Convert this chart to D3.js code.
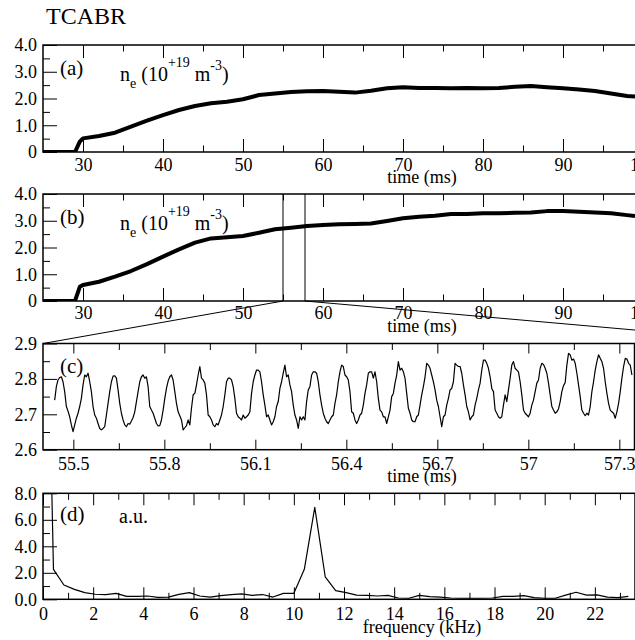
<!DOCTYPE html>
<html>
<head>
<meta charset="utf-8">
<script src="https://d3js.org/d3.v7.min.js"></script>
<style>
    html, body {
        margin: 0;
        padding: 0;
        background: #fff;
        overflow: hidden;
    }
    text {
        font-family: "Liberation Serif", "Times New Roman", serif;
        fill: #000;
    }
    .frame {
        fill: none;
        stroke: #000;
        stroke-width: 1.5px;
    }
    .axis line {
        stroke: #000;
        stroke-width: 1px;
    }
    .trace {
        fill: none;
        stroke: #000;
    }
</style>
</head>
<body>
<svg id="chart" width="635" height="640"></svg>
<script>
// ---- data ----

// panels (a) and (b): line-averaged density, 10^19 m^-3
var timesAB = [25, 29, 29.6, 30, 32, 34, 36, 38, 40, 42, 44, 46, 48, 50, 52, 54, 56, 58,
    60, 62, 64, 66, 68, 70, 72, 74, 76, 78, 80, 82, 84, 86, 88, 90, 92, 94, 96, 98, 99];
var densityA = [0, 0, 0.39, 0.51, 0.6, 0.72, 0.95, 1.17, 1.38, 1.57, 1.72, 1.82, 1.88, 1.97, 2.13, 2.19, 2.24, 2.27,
    2.28, 2.25, 2.22, 2.29, 2.38, 2.42, 2.39, 2.39, 2.38, 2.39, 2.38, 2.39, 2.44, 2.47, 2.42, 2.38, 2.34, 2.28, 2.19, 2.09, 2.07];
var densityB = [0, 0, 0.53, 0.6, 0.72, 0.91, 1.12, 1.38, 1.66, 1.93, 2.18, 2.34, 2.38, 2.43, 2.55, 2.68, 2.74, 2.80,
    2.84, 2.87, 2.88, 2.90, 2.99, 3.09, 3.15, 3.19, 3.25, 3.25, 3.28, 3.28, 3.30, 3.31, 3.36, 3.36, 3.34, 3.31, 3.28, 3.21, 3.18];

// window marked in (b) and blown up in (c), ms
var markedWindow = [55.0, 57.75];
var zoomLineEnds = [55.4, 57.856];

// panel (c): sampled signal
var sampleStart = 55.4385;   // ms
var sampleStep = 0.0055;     // ms
var oscillation = [
    2.740, 2.778, 2.797, 2.804, 2.806, 2.792, 2.764, 2.722, 2.709, 2.693, 2.670, 2.651, 2.670, 2.689, 2.703, 2.722,
    2.745, 2.783, 2.811, 2.806, 2.816, 2.792, 2.764, 2.722, 2.698, 2.689, 2.674, 2.660, 2.656, 2.660, 2.665, 2.698,
    2.731, 2.764, 2.792, 2.808, 2.809, 2.802, 2.769, 2.731, 2.703, 2.684, 2.670, 2.665, 2.674, 2.672, 2.681, 2.691,
    2.707, 2.736, 2.764, 2.792, 2.806, 2.811, 2.802, 2.806, 2.778, 2.722, 2.712, 2.703, 2.689, 2.674, 2.667, 2.668,
    2.684, 2.712, 2.745, 2.773, 2.794, 2.806, 2.811, 2.797, 2.764, 2.731, 2.707, 2.696, 2.684, 2.656, 2.662, 2.668,
    2.684,
    2.670, 2.717, 2.755, 2.759, 2.783, 2.811, 2.835, 2.802, 2.797, 2.788, 2.755, 2.698, 2.693, 2.684, 2.670, 2.665,
    2.674, 2.670, 2.684, 2.698, 2.722, 2.755, 2.792, 2.802, 2.802, 2.797, 2.778, 2.745, 2.703, 2.693, 2.689, 2.684,
    2.698, 2.689, 2.693, 2.698, 2.707, 2.759, 2.792, 2.811, 2.825, 2.825, 2.820, 2.792, 2.755, 2.726, 2.693, 2.698,
    2.684, 2.670, 2.679, 2.693, 2.722, 2.736, 2.773, 2.792, 2.816, 2.839, 2.806, 2.811, 2.783, 2.764, 2.726, 2.698,
    2.684, 2.660, 2.693, 2.684, 2.693, 2.684, 2.736, 2.769, 2.778, 2.811, 2.820, 2.820, 2.816, 2.792, 2.755, 2.726,
    2.703, 2.689, 2.679, 2.674, 2.684, 2.693, 2.698, 2.731,
    2.755, 2.792, 2.820, 2.839, 2.835, 2.811, 2.806, 2.797, 2.764, 2.707, 2.703, 2.684, 2.674, 2.684, 2.698, 2.703,
    2.726, 2.759, 2.783, 2.816, 2.820, 2.820, 2.802, 2.820, 2.792, 2.745, 2.712, 2.707, 2.693, 2.693, 2.674, 2.693,
    2.712, 2.750, 2.759, 2.788, 2.811, 2.849, 2.825, 2.830, 2.820, 2.802, 2.759, 2.717, 2.703, 2.684, 2.679, 2.679,
    2.693, 2.698, 2.726, 2.755, 2.778, 2.806, 2.844, 2.839, 2.830, 2.811, 2.792, 2.769, 2.740, 2.722, 2.693, 2.665,
    2.693, 2.698, 2.726, 2.745, 2.769, 2.773, 2.792, 2.844, 2.839, 2.835, 2.835, 2.816, 2.783, 2.755, 2.722, 2.707,
    2.684, 2.693, 2.698, 2.726, 2.745, 2.769, 2.788, 2.825,
    2.853, 2.853, 2.844, 2.830, 2.806, 2.773, 2.764, 2.712, 2.703, 2.693, 2.689, 2.693, 2.726, 2.755, 2.736, 2.769,
    2.802, 2.839, 2.849, 2.830, 2.825, 2.820, 2.792, 2.755, 2.712, 2.703, 2.698, 2.693, 2.703, 2.726, 2.740, 2.764,
    2.788, 2.797, 2.830, 2.844, 2.841, 2.830, 2.816, 2.788, 2.755, 2.722, 2.712, 2.703, 2.707, 2.715, 2.736, 2.764,
    2.781, 2.790, 2.839, 2.872, 2.868, 2.853, 2.856, 2.844, 2.816, 2.783, 2.750, 2.712, 2.703, 2.696, 2.703, 2.698,
    2.722, 2.764, 2.792, 2.825, 2.849, 2.868, 2.858, 2.849, 2.830, 2.792, 2.759, 2.731, 2.712, 2.707, 2.703, 2.689,
    2.707, 2.731, 2.764, 2.802, 2.835, 2.858, 2.856, 2.844, 2.839, 2.811
];

// panel (d): spectrum, a.u. (first bin is off scale)
var freqStep = 0.4167;   // kHz
var spectrum = [40, 2.26, 1.08, 0.75, 0.5, 0.38, 0.36, 0.45, 0.22, 0.22, 0.25, 0.15, 0.17, 0.37, 0.5, 0.25,
    0.17, 0.28, 0.36, 0.41, 0.3, 0.36, 0.17, 0.45, 0.45, 2.26, 6.94, 1.7, 0.65, 0.5, 0.32, 0.3,
    0.25, 0.3, 0.1, 0.08, 0.3, 0.2, 0.17, 0.1, 0.08, 0.08, 0.08, 0.1, 0.22, 0.22, 0.28, 0.12,
    0.08, 0.08, 0.32, 0.53, 0.32, 0.34, 0.17, 0.12, 0.22];

// ticks
var timeMajor = [30, 40, 50, 60, 70, 80, 90, 100];
var timeMinor = [35, 45, 55, 65, 75, 85, 95];
var timeLabels = ["30", "40", "50", "60", "70", "80", "90", "100"];
var densMajor = [0, 1, 2, 3, 4];
var densMinor = [0.5, 1.5, 2.5, 3.5];
var densLabels = ["0", "1.0", "2.0", "3.0", "4.0"];
var zoomMajor = [55.5, 55.8, 56.1, 56.4, 56.7, 57.0, 57.3];
var zoomMinor = [55.65, 55.95, 56.25, 56.55, 56.85, 57.15];
var zoomLabels = ["55.5", "55.8", "56.1", "56.4", "56.7", "57", "57.3"];
var oscMajor = [2.6, 2.7, 2.8, 2.9];
var oscMinor = [2.65, 2.75, 2.85];
var oscLabels = ["2.6", "2.7", "2.8", "2.9"];
var freqMajor = [0, 2, 4, 6, 8, 10, 12, 14, 16, 18, 20, 22];
var freqMinor = [1, 3, 5, 7, 9, 11, 13, 15, 17, 19, 21, 23];
var freqLabels = ["0", "2", "4", "6", "8", "10", "12", "14", "16", "18", "20", "22"];
var specMajor = [0, 2, 4, 6, 8];
var specMinor = [1, 3, 5, 7];
var specLabels = ["0.0", "2.0", "4.0", "6.0", "8.0"];

// ---- layout ----
var svg = d3.select("#chart");
var left = 43;
var titleX = 422;
var tickFont = 18;

var xTime = d3.scaleLinear().domain([25, 100]).range([left, 643]);
var xZoom = d3.scaleLinear().domain([55.4, 57.35]).range([left, 634.5]);
var xFreq = d3.scaleLinear().domain([0, 23.6]).range([left, 635]);

var yA = d3.scaleLinear().domain([0, 4]).range([152, 45]);
var yB = d3.scaleLinear().domain([0, 4]).range([301, 194]);
var yC = d3.scaleLinear().domain([2.6, 2.9]).range([449.7, 343.5]);
var yD = d3.scaleLinear().domain([0, 8]).range([599.3, 493.3]);

var defs = svg.append("defs");

function addAxis(g, axis, values, len, labels, pad, transform) {
    axis.tickValues(values).tickSize(-len).tickPadding(pad)
        .tickFormat(labels ? function(d, i) { return labels[i]; } : function() { return ""; });
    var a = g.append("g").attr("class", "axis").attr("transform", transform).call(axis);
    a.select(".domain").remove();
    a.attr("font-family", null).attr("font-size", tickFont);
    return a;
}

function drawPanel(p) {
    var g = svg.append("g");
    var x0 = p.x.range()[0], x1 = p.x.range()[1];
    var yTop = p.y.range()[1], yBot = p.y.range()[0];

    defs.append("clipPath").attr("id", "clip-" + p.id)
        .append("rect")
        .attr("x", x0).attr("y", yTop)
        .attr("width", x1 - x0).attr("height", yBot - yTop);

    addAxis(g, d3.axisBottom(p.x), p.xMajor, p.xLen, p.xLabels, p.xPad, "translate(0," + yBot + ")");
    addAxis(g, d3.axisBottom(p.x), p.xMinor, 6.5, null, 0, "translate(0," + yBot + ")");
    addAxis(g, d3.axisTop(p.x), p.xMajor, p.xLen, null, 0, "translate(0," + yTop + ")");
    addAxis(g, d3.axisTop(p.x), p.xMinor, 6.5, null, 0, "translate(0," + yTop + ")");
    addAxis(g, d3.axisLeft(p.y), p.yMajor, 14, p.yLabels, 6, "translate(" + x0 + ",0)");
    addAxis(g, d3.axisLeft(p.y), p.yMinor, 7, null, 6, "translate(" + x0 + ",0)");

    g.append("rect").attr("class", "frame")
        .attr("x", x0).attr("y", yTop)
        .attr("width", x1 - x0).attr("height", yBot - yTop);

    g.append("text")
        .attr("x", titleX).attr("y", yBot + p.titleDy)
        .attr("text-anchor", "middle")
        .attr("font-size", tickFont)
        .text(p.title);

    g.append("text")
        .attr("x", 60).attr("y", yTop + p.labelDy)
        .attr("font-size", 21)
        .text("(" + p.id + ")");

    return g;
}

function densityLabel(g, x, y) {
    var t = g.append("text").attr("x", x).attr("y", y).attr("font-size", 20);
    t.append("tspan").text("n");
    t.append("tspan").attr("font-size", 14).attr("dy", 7).text("e");
    t.append("tspan").attr("dy", -7).text(" (10");
    t.append("tspan").attr("font-size", 14).attr("dy", -14).text("+19");
    t.append("tspan").attr("dy", 14).text(" m");
    t.append("tspan").attr("font-size", 14).attr("dy", -11).text("-3");
    t.append("tspan").attr("dy", 11).text(")");
}

// title
svg.append("text").attr("x", 46).attr("y", 24).attr("font-size", 24).text("TCABR");

// (a)
var gA = drawPanel({id: "a", x: xTime, y: yA, xMajor: timeMajor, xMinor: timeMinor, xLabels: timeLabels,
    xLen: 13, xPad: 6, yMajor: densMajor, yMinor: densMinor, yLabels: densLabels,
    title: "time (ms)", titleDy: 31, labelDy: 30});
densityLabel(gA, 120, 81);

var lineA = d3.line().x(function(d) { return xTime(d[0]); }).y(function(d) { return yA(d[1]); });
gA.append("path").attr("class", "trace")
    .attr("clip-path", "url(#clip-a)")
    .attr("stroke-width", 4).attr("stroke-linejoin", "round")
    .attr("d", lineA(d3.zip(timesAB, densityA)));

// (b)
var gB = drawPanel({id: "b", x: xTime, y: yB, xMajor: timeMajor, xMinor: timeMinor, xLabels: timeLabels,
    xLen: 13, xPad: 5, yMajor: densMajor, yMinor: densMinor, yLabels: densLabels,
    title: "time (ms)", titleDy: 31, labelDy: 30});
densityLabel(gB, 120, 230);

var lineB = d3.line().x(function(d) { return xTime(d[0]); }).y(function(d) { return yB(d[1]); });
gB.append("path").attr("class", "trace")
    .attr("clip-path", "url(#clip-b)")
    .attr("stroke-width", 4).attr("stroke-linejoin", "round")
    .attr("d", lineB(d3.zip(timesAB, densityB)));

gB.selectAll(".marker").data(markedWindow).enter().append("line")
    .attr("x1", function(d) { return xTime(d); }).attr("x2", function(d) { return xTime(d); })
    .attr("y1", yB.range()[1]).attr("y2", yB.range()[0])
    .attr("stroke", "#000").attr("stroke-width", 1);

// zoom lines from (b) to (c)
svg.selectAll(".zoomline").data(d3.zip(markedWindow, zoomLineEnds)).enter().append("line")
    .attr("x1", function(d) { return xTime(d[0]); }).attr("y1", yB.range()[0])
    .attr("x2", function(d) { return xZoom(d[1]); }).attr("y2", yC.range()[1])
    .attr("stroke", "#000").attr("stroke-width", 1);

// (c)
var gC = drawPanel({id: "c", x: xZoom, y: yC, xMajor: zoomMajor, xMinor: zoomMinor, xLabels: zoomLabels,
    xLen: 10, xPad: 7.5, yMajor: oscMajor, yMinor: oscMinor, yLabels: oscLabels,
    title: "time (ms)", titleDy: 32, labelDy: 29});

var lineC = d3.line()
    .x(function(d, i) { return xZoom(sampleStart + i * sampleStep); })
    .y(function(d) { return yC(d); });
gC.append("path").attr("class", "trace")
    .attr("clip-path", "url(#clip-c)")
    .attr("stroke-width", 1.2).attr("stroke-linejoin", "round")
    .attr("d", lineC(oscillation));

// (d)
var gD = drawPanel({id: "d", x: xFreq, y: yD, xMajor: freqMajor, xMinor: freqMinor, xLabels: freqLabels,
    xLen: 12, xPad: 8, yMajor: specMajor, yMinor: specMinor, yLabels: specLabels,
    title: "frequency (kHz)", titleDy: 34, labelDy: 28});
gD.append("text").attr("x", 119).attr("y", yD.range()[1] + 30).attr("font-size", 20).text("a.u.");

var lineD = d3.line()
    .x(function(d, i) { return xFreq(i * freqStep); })
    .y(function(d) { return yD(d); });
gD.append("path").attr("class", "trace")
    .attr("clip-path", "url(#clip-d)")
    .attr("stroke-width", 1.2).attr("stroke-linejoin", "round")
    .attr("d", lineD(spectrum));
</script>
</body>
</html>
